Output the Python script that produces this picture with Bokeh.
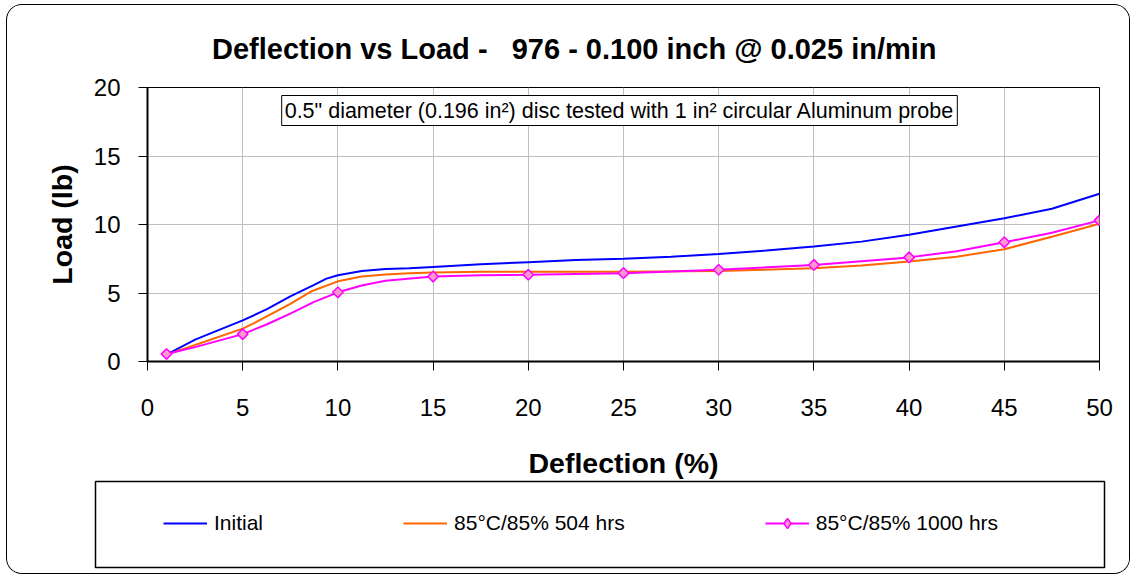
import numpy as np
from bokeh.plotting import figure
from bokeh.models import Range1d, FixedTicker, Label, Legend, LegendItem
from bokeh.embed import file_html
from bokeh.resources import INLINE

# ---------------- data ----------------
x_ticks = [0, 5, 10, 15, 20, 25, 30, 35, 40, 45, 50]
y_ticks = [0, 5, 10, 15, 20]

initial_x = [1, 2.5, 5, 6.25, 7.5, 8.75, 9.4, 10, 11.25, 12.5, 13.75, 15, 17.5, 20,
             22.5, 25, 27.5, 30, 32.5, 35, 37.5, 40, 42.5, 45, 47.5, 50]
initial_y = [0.5, 1.6, 3.0, 3.8, 4.75, 5.6, 6.05, 6.3, 6.6, 6.75, 6.8, 6.9, 7.1, 7.25,
             7.4, 7.5, 7.65, 7.85, 8.1, 8.4, 8.75, 9.25, 9.85, 10.45, 11.15, 12.25]

h504_x = [1, 2.5, 5, 5.6, 7.5, 8.65, 10, 11.25, 12.5, 13.75, 15, 17.5, 20, 25, 30,
          35, 37.5, 40, 42.5, 45, 47.5, 50]
h504_y = [0.5, 1.2, 2.4, 2.8, 4.2, 5.15, 5.85, 6.2, 6.35, 6.45, 6.5, 6.55, 6.55, 6.55, 6.6,
          6.8, 7.0, 7.3, 7.65, 8.2, 9.1, 10.05]

h1000_x = [1, 2.5, 5, 6.25, 7.5, 8.75, 10, 11.25, 12.5, 15, 17.5, 20, 25, 30, 35, 40,
           42.5, 45, 47.5, 50]
h1000_y = [0.55, 1.05, 2.0, 2.7, 3.5, 4.35, 5.05, 5.55, 5.9, 6.2, 6.3, 6.33, 6.45, 6.7, 7.05, 7.6,
           8.05, 8.7, 9.4, 10.3]
h1000_marker_x = [1, 5, 10, 15, 20, 25, 30, 35, 40, 45, 50]

series_names = ["Initial", "85°C/85% 504 hrs", "85°C/85% 1000 hrs"]
series_colors = ["#0000FF", "#FF6600", "#FF00FF"]
marker_fill = "#FF99CC"
title_text = "Deflection vs Load - \u00a0 976 - 0.100 inch @ 0.025 in/min"
note_text = '0.5" diameter (0.196 in²) disc tested with 1 in² circular Aluminum probe'

FONT = "Liberation Sans"
BORDER = "1.5px solid black"

# ---------------- main chart ----------------
p = figure(width=1124, height=476, output_backend="svg", toolbar_location=None,
           x_range=Range1d(0, 50), y_range=Range1d(0, 20),
           min_border_left=140, min_border_right=32, min_border_top=82,
           min_border_bottom=118, background_fill_color="white",
           border_fill_color="white",
           styles={"border": BORDER, "border-bottom": "0",
                   "border-radius": "16px 16px 0 0", "overflow": "hidden",
                   "margin": "4px 0 0 6px", "background-color": "white"})

p.title.text = title_text
p.title.text_font = FONT
p.title.text_font_style = "bold"
p.title.text_font_size = "29px"
p.title.text_color = "black"
p.title.align = "left"
p.title.offset = 64.5
p.title.standoff = 46

p.outline_line_color = "black"
p.outline_line_width = 1
p.outline_line_alpha = 1

p.xaxis.ticker = FixedTicker(ticks=x_ticks)
p.yaxis.ticker = FixedTicker(ticks=y_ticks)
p.xgrid.ticker = FixedTicker(ticks=x_ticks)
p.ygrid.ticker = FixedTicker(ticks=y_ticks)
for g in (p.xgrid, p.ygrid):
    g.grid_line_color = "#C0C0C0"
    g.grid_line_width = 1

for ax in (p.xaxis[0], p.yaxis[0]):
    ax.minor_tick_line_color = None
    ax.major_tick_in = 0
    ax.major_tick_out = 9
    ax.major_tick_line_color = "black"
    ax.axis_line_color = "black"
    ax.axis_line_width = 2
    ax.major_label_text_font = FONT
    ax.major_label_text_font_size = "24px"
    ax.major_label_text_color = "black"
    ax.axis_label_text_font = FONT
    ax.axis_label_text_font_style = "bold"
    ax.axis_label_text_font_size = "28.5px"
    ax.axis_label_text_color = "black"

p.xaxis.axis_label = "Deflection (%)"
p.yaxis.axis_label = "Load (lb)"
p.xaxis.major_label_standoff = 28
p.xaxis.axis_label_standoff = 28
p.yaxis.major_label_standoff = 18
p.yaxis.axis_label_standoff = 13

r1 = p.line(initial_x, initial_y, line_color=series_colors[0], line_width=2)
r2 = p.line(h504_x, h504_y, line_color=series_colors[1], line_width=2)
r3 = p.line(h1000_x, h1000_y, line_color=series_colors[2], line_width=2)
mk_x = [x for x in h1000_x if x in h1000_marker_x]
mk_y = [y for x, y in zip(h1000_x, h1000_y) if x in h1000_marker_x]
r4 = p.scatter(mk_x, mk_y, marker="square", angle=np.pi / 4, size=7.5,
               fill_color=marker_fill, line_color=series_colors[2], line_width=1.5)

note = Label(x=472, y=251, x_units="screen", y_units="screen", text=note_text,
             text_font=FONT, text_font_size="21.5px", text_align="center",
             text_baseline="middle", text_color="black",
             border_line_color="black", border_line_width=1,
             background_fill_color="white", padding=3)
p.add_layout(note)

# ---------------- legend panel (its frame is the legend box) ----------------
q = figure(width=1124, height=94, output_backend="svg", toolbar_location=None,
           x_range=Range1d(100, 101), y_range=Range1d(100, 101),
           x_axis_type=None, y_axis_type=None,
           min_border_left=88, min_border_right=27, min_border_top=1,
           min_border_bottom=7, background_fill_color="white",
           border_fill_color="white",
           styles={"border": BORDER, "border-top": "0",
                   "border-radius": "0 0 16px 16px", "overflow": "hidden",
                   "margin": "0 0 0 6px", "background-color": "white"})
q.grid.visible = False
q.outline_line_color = "black"
q.outline_line_width = 1.5
q.outline_line_alpha = 1

# legend-key renderers (same series, lying outside this panel's visible range)
g1 = q.line(initial_x, initial_y, line_color=series_colors[0], line_width=2)
g2 = q.line(h504_x, h504_y, line_color=series_colors[1], line_width=2)
g3 = q.line(h1000_x, h1000_y, line_color=series_colors[2], line_width=2)
g4 = q.scatter(mk_x, mk_y, marker="diamond", size=7.5,
               fill_color=marker_fill, line_color=series_colors[2], line_width=1.5)

legend = Legend(items=[LegendItem(label=series_names[0], renderers=[g1]),
                       LegendItem(label=series_names[1], renderers=[g2]),
                       LegendItem(label=series_names[2], renderers=[g3, g4])],
                location=(68, 31.5), orientation="horizontal", spacing=140,
                padding=0, margin=0, glyph_width=44, glyph_height=26,
                label_height=26, label_standoff=7, label_text_font=FONT,
                label_text_font_size="21px", label_text_color="black",
                border_line_alpha=0, background_fill_alpha=0)
q.add_layout(legend)

open("out.html", "w").write(file_html([p, q], INLINE))
